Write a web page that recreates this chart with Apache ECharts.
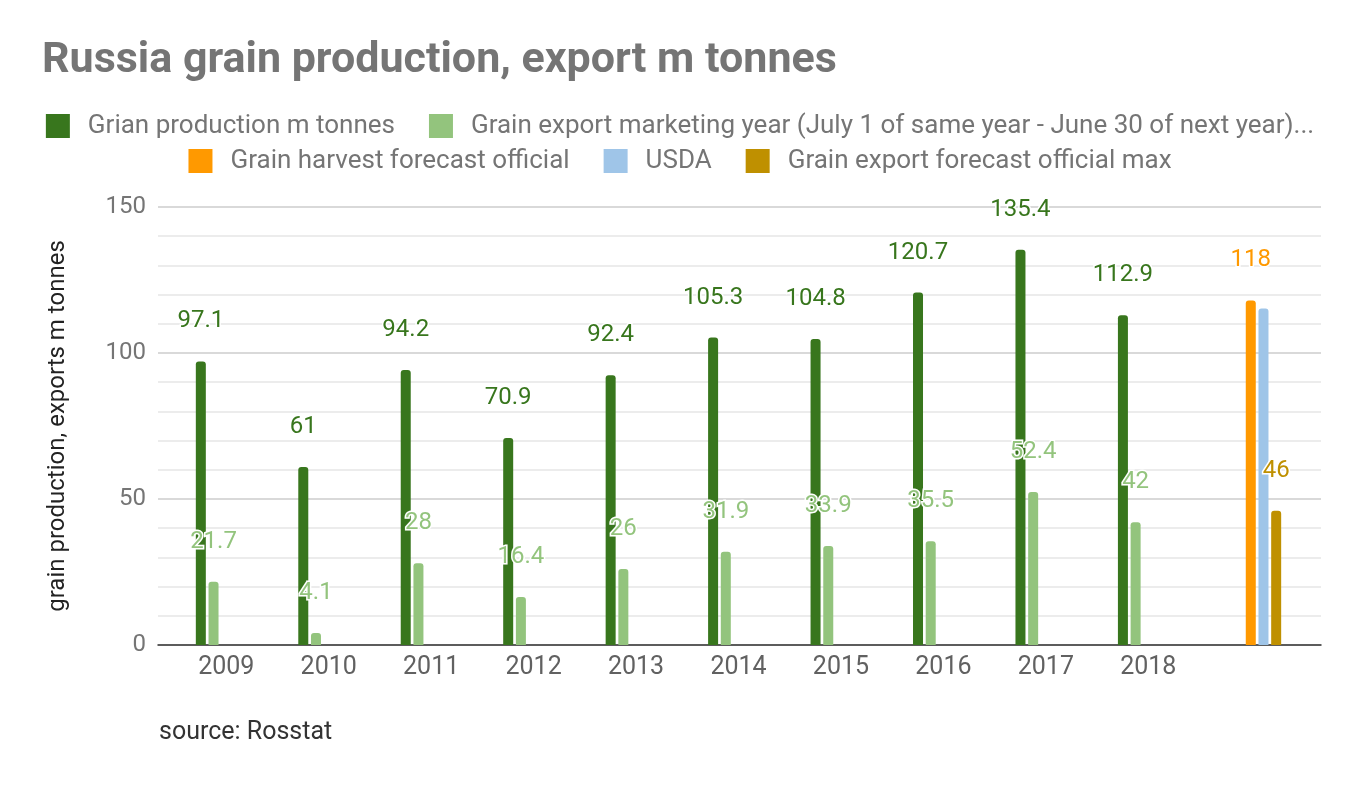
<!DOCTYPE html>
<html>
<head>
<meta charset="utf-8">
<script src="https://cdn.jsdelivr.net/npm/echarts@6/dist/echarts.min.js"></script>
<style>
html,body{margin:0;padding:0;background:#fff;}
#chart{width:1360px;height:787px;}
</style>
</head>
<body>
<div id="chart"></div>
<script>
const categories = ['2009','2010','2011','2012','2013','2014','2015','2016','2017','2018',''];
const production = [97.1, 61, 94.2, 70.9, 92.4, 105.3, 104.8, 120.7, 135.4, 112.9, null];
const exportMY = [21.7, 4.1, 28, 16.4, 26, 31.9, 33.9, 35.5, 52.4, 42, null];
const harvestForecast = [null,null,null,null,null,null,null,null,null,null,118];
const usda = [null,null,null,null,null,null,null,null,null,null,115.2];
const exportForecastMax = [null,null,null,null,null,null,null,null,null,null,46];
const yTicks = [0, 50, 100, 150];
const seriesNames = ['Grian production m tonnes',
  'Grain export marketing year (July 1 of same year - June 30 of next year)...',
  'Grain harvest forecast official','USDA','Grain export forecast official max'];

const FONT = 'Roboto, "Noto Sans", sans-serif';
const chart = echarts.init(document.getElementById('chart'));

function lbl(color){
  return {show:true, position:'top', distance:28, color:color, fontFamily:FONT, fontSize:24,
    textBorderColor:'#fff', textBorderWidth:3};
}
function bar(name, data, color, withLabel){
  return {name:name, type:'bar', xAxisIndex:1, yAxisIndex:1, data:data, barWidth:10, barGap:'27%',
    itemStyle:{color:color, borderRadius:[3,3,0,0]},
    label: withLabel ? lbl(color) : {show:false}};
}
const legendBase = {left:'center', itemWidth:24, itemHeight:24, itemGap:34, icon:'rect',
  textStyle:{fontFamily:FONT, fontSize:26, color:'#757575', padding:[0,0,0,13]}};

chart.setOption({
  animation:false,
  backgroundColor:'#fff',
  title:{text:'Russia grain production, export m tonnes', left:37, top:35,
    textStyle:{fontFamily:FONT, fontSize:43, fontWeight:'bold', color:'#757575'}},
  legend:[
    Object.assign({}, legendBase, {top:108, data:seriesNames.slice(0,2)}),
    Object.assign({}, legendBase, {top:143, data:seriesNames.slice(2)})
  ],
  grid:[
    {left:158, right:39, top:207, bottom:142},
    {left:175, right:58, top:207, bottom:142}
  ],
  xAxis:[
    {type:'value', gridIndex:0, min:0, max:1, axisLine:{show:true, onZero:false, lineStyle:{color:'#333', width:1.5}},
      axisTick:{show:false}, axisLabel:{show:false}, splitLine:{show:false}},
    {type:'category', gridIndex:1, data:categories, axisLine:{show:false}, axisTick:{show:false},
      axisLabel:{fontFamily:FONT, fontSize:25, color:'#616161', margin:10}}
  ],
  yAxis:[
    {type:'value', gridIndex:0, min:0, max:150, interval:50,
      name:'grain production, exports m tonnes', nameLocation:'middle', nameGap:88, nameRotate:90,
      nameTextStyle:{fontFamily:FONT, fontSize:24, color:'#222'},
      axisLine:{show:false}, axisTick:{show:false},
      axisLabel:{fontFamily:FONT, fontSize:24, color:'#757575', margin:12,
        formatter:function(v){return yTicks.indexOf(v)>=0 ? String(v) : '';}},
      splitLine:{lineStyle:{color:'#cccccc', width:1.5}},
      minorTick:{show:false, splitNumber:5},
      minorSplitLine:{show:true, lineStyle:{color:'#e6e6e6', width:1.5}}},
    {type:'value', gridIndex:1, min:0, max:150, show:false, splitLine:{show:false}}
  ],
  series:[
    bar(seriesNames[0], production, '#38761d', true),
    bar(seriesNames[1], exportMY, '#93c47d', true),
    bar(seriesNames[2], harvestForecast, '#ff9900', true),
    bar(seriesNames[3], usda, '#9fc5e8', false),
    bar(seriesNames[4], exportForecastMax, '#bf9000', true)
  ],
  graphic:[
    {type:'text', left:159, top:720, style:{text:'source: Rosstat', fontFamily:FONT, fontSize:25, fill:'#333'}}
  ]
});
</script>
</body>
</html>
